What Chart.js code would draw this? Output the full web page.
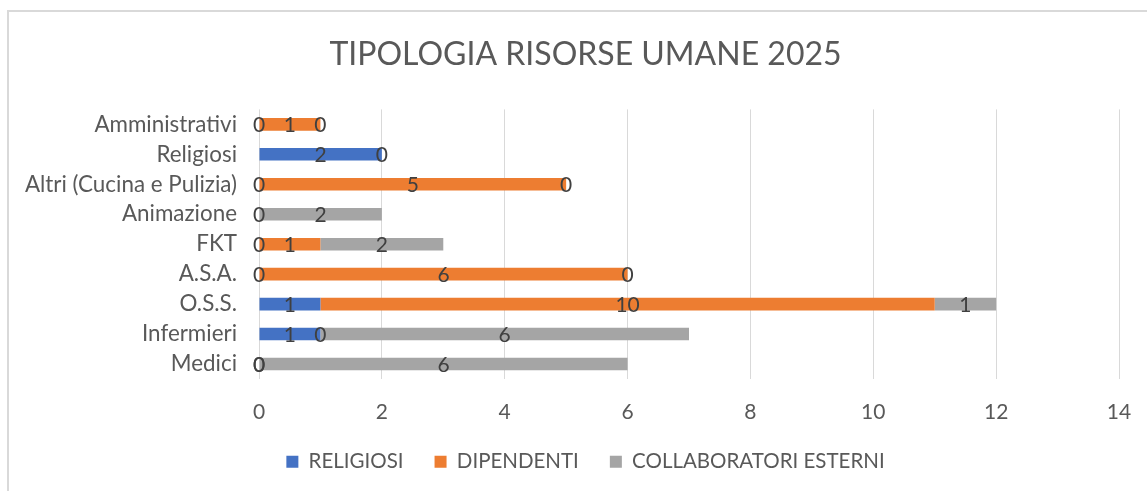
<!DOCTYPE html>
<html>
<head>
<meta charset="utf-8">
<script src="https://cdn.jsdelivr.net/npm/chart.js@4.4.1/dist/chart.umd.min.js"></script>
<style>
  html, body { margin: 0; padding: 0; background: #ffffff; overflow: hidden; width: 1147px; height: 491px; }
  #frame { position: absolute; left: 7px; top: 10px; width: 1300px; height: 700px; border: 2px solid #d9d9d9; box-sizing: border-box; }
  #wrap { position: absolute; left: 0; top: 0; width: 1171px; height: 491px; }
</style>
</head>
<body>
<div id="frame"></div>
<div id="wrap"><canvas id="c" width="1171" height="491"></canvas></div>
<script>
const categories = ['Amministrativi', 'Religiosi', 'Altri (Cucina e Pulizia)', 'Animazione', 'FKT', 'A.S.A.', 'O.S.S.', 'Infermieri', 'Medici'];
const religiosi     = [0, 2, 0, 0,    0, 0, 1,  1, 0];
const dipendenti    = [1, 0, 5, null, 1, 6, 10, 0, 0];
const collaboratori = [0, null, 0, 2, 2, 0, 1,  6, 6];
const seriesNames = ['RELIGIOSI', 'DIPENDENTI', 'COLLABORATORI ESTERNI'];
const xTicks = [0, 2, 4, 6, 8, 10, 12, 14];

const FONT = 'Lato';
const TEXT = '#595959';

const dataLabels = {
  id: 'dataLabels',
  afterDatasetsDraw(chart) {
    const ctx = chart.ctx;
    ctx.save();
    ctx.font = '21px ' + FONT;
    ctx.fillStyle = '#404040';
    ctx.textAlign = 'center';
    ctx.textBaseline = 'middle';
    chart.data.datasets.forEach((ds, di) => {
      const meta = chart.getDatasetMeta(di);
      meta.data.forEach((el, i) => {
        const v = ds.data[i];
        if (v === null || v === undefined) return;
        const p = el.getProps(['x', 'y', 'base'], true);
        ctx.fillText(String(v), (p.x + p.base) / 2, p.y + 1);
      });
    });
    ctx.restore();
  }
};

new Chart(document.getElementById('c'), {
  type: 'bar',
  data: {
    labels: categories,
    datasets: [
      { label: seriesNames[0], data: religiosi, backgroundColor: '#4472C4' },
      { label: seriesNames[1], data: dipendenti, backgroundColor: '#ED7D31' },
      { label: seriesNames[2], data: collaboratori, backgroundColor: '#A5A5A5' }
    ]
  },
  options: {
    indexAxis: 'y',
    responsive: false,
    animation: false,
    devicePixelRatio: 1,
    layout: { padding: { left: 0, right: 0, top: 0, bottom: 9 } },
    datasets: { bar: { barPercentage: 0.42, categoryPercentage: 1.0, borderWidth: 0 } },
    scales: {
      x: {
        stacked: true,
        min: 0, max: 14,
        afterBuildTicks(scale) { scale.ticks = xTicks.map(v => ({ value: v })); },
        grid: { color: '#d9d9d9', lineWidth: 1, drawTicks: false },
        border: { display: false },
        ticks: { color: TEXT, font: { family: FONT, size: 21 }, padding: 21, maxRotation: 0, autoSkip: false },
        afterFit(scale) { scale.height = 41.5; scale.paddingLeft = 0; scale.paddingRight = 52; }
      },
      y: {
        stacked: true,
        grid: { display: false, drawTicks: false },
        border: { display: false },
        ticks: { color: TEXT, font: { family: FONT, size: 22.4 }, padding: 22, autoSkip: false },
        afterFit(scale) { scale.width = 259; scale.paddingTop = 0; scale.paddingBottom = 0; }
      }
    },
    plugins: {
      title: {
        display: true,
        text: 'TIPOLOGIA RISORSE UMANE 2025',
        color: TEXT,
        font: { family: FONT, size: 32, weight: 'normal', lineHeight: 1.2 },
        padding: { top: 35, bottom: 36 }
      },
      legend: {
        position: 'bottom',
        labels: {
          color: TEXT,
          font: { family: FONT, size: 20.5 },
          boxWidth: 12, boxHeight: 12,
          padding: 31
        }
      },
      tooltip: { enabled: false }
    }
  },
  plugins: [dataLabels]
});
</script>
</body>
</html>
